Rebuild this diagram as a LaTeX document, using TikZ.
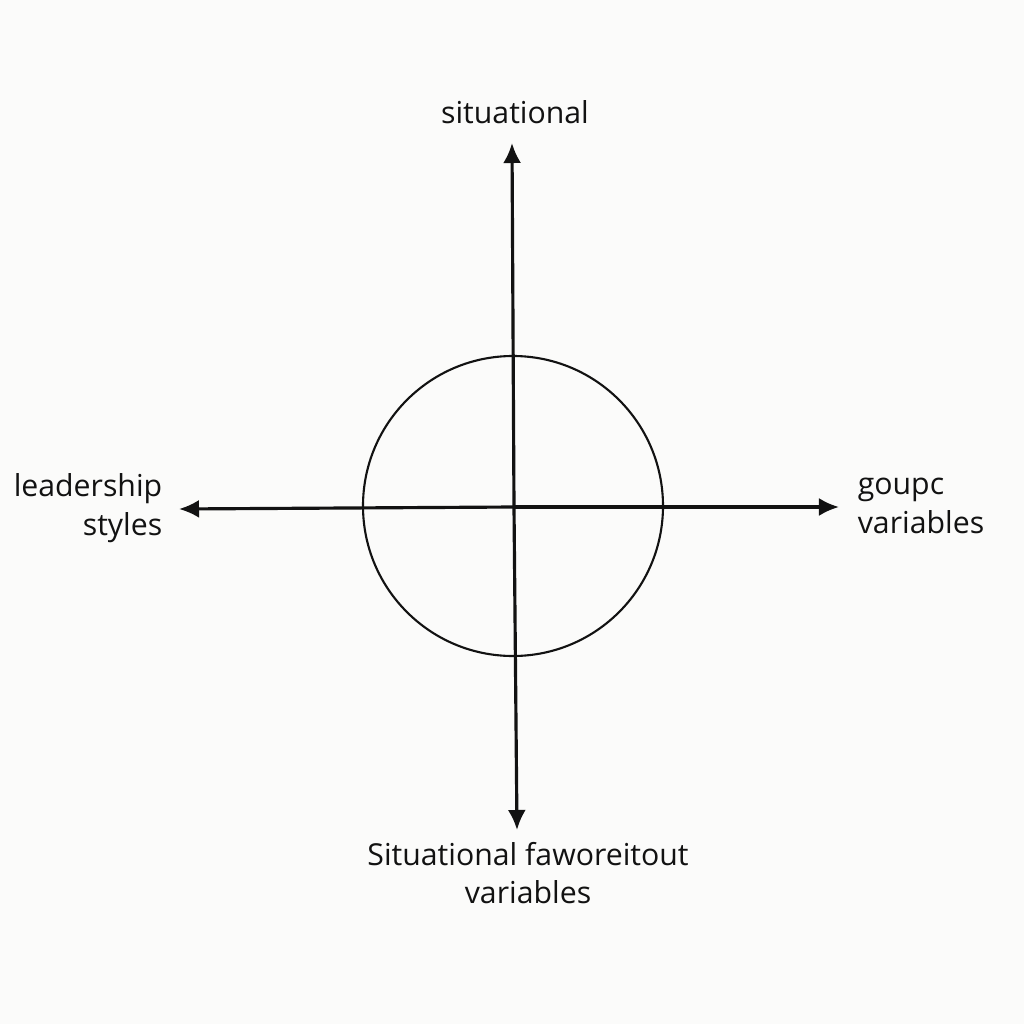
\documentclass[tikz,border=0pt]{standalone}
\usepackage{fontspec}
\setmainfont{Open Sans}
\usetikzlibrary{math,arrows.meta}
\definecolor{paper}{RGB}{251,251,250}
\definecolor{ink}{RGB}{18,18,18}

\begin{document}
\begin{tikzpicture}[x=0.01cm,y=-0.01cm,
    axis/.style={draw=ink,line width=0.9pt,-{Latex[length=2mm,width=1.8mm]}},
    lbl/.style={text=ink,font=\fontsize{8.6}{11}\selectfont,inner sep=0pt}]
      \tikzmath{\cx = 514; \cy = 507; \r = 150;}
      \fill[paper] (0,0) rectangle (1024,1024);
      \coordinate (o) at (\cx,\cy);
      \coordinate (up) at (512,143);
      \coordinate (down) at (517,830);
      \coordinate (west) at (179,509);
      \coordinate (east) at (839,507);
      \draw[ink,line width=0.6pt] (513,506) circle (\r);
      \draw[axis] (o) -- (up);
      \draw[axis] (o) -- (down);
      \draw[axis] (o) -- (west);
      \draw[axis] (o) -- (east);
      \node[lbl] (sit) at (515,112) {situational};
      \node[lbl,align=right] (lead) at (88,508) {leadership\\styles};
      \node[lbl,align=left] (group) at (921,506) {goupc\\variables};
      \node[lbl,align=center] (fav) at (528,873) {Situational faworeitout\\variables};
    \end{tikzpicture}
\end{document}
